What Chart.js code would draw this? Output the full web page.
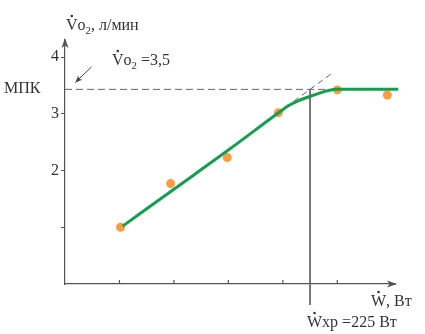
<!DOCTYPE html>
<html>
<head>
<meta charset="utf-8">
<script src="https://cdn.jsdelivr.net/npm/chart.js@4.4.0/dist/chart.umd.min.js"></script>
<style>
  html, body { margin: 0; padding: 0; background: #fff; }
  #wrap { width: 425px; height: 334px; }
</style>
</head>
<body>
<div id="wrap"><canvas id="vo2Chart"></canvas></div>
<script>
// measured points (W, Vo2)
const measuredW = [51, 97, 149, 196, 250, 296];
const measuredVo2 = [1.0, 1.77, 2.23, 3.02, 3.42, 3.33];
// fitted curve
const fitW = [53, 100, 150, 197, 205, 213, 224, 233, 242, 250, 306];
const fitVo2 = [1.02, 1.67, 2.36, 3.03, 3.14, 3.22, 3.30, 3.36, 3.41, 3.43, 3.43];
// dashed extension of the linear part
const extW = [210, 247];
const extVo2 = [3.22, 3.74];
const vo2MaxLevel = 3.43;
const wCrit = 225;
const yTicks = [1, 2, 3, 4];
const yTickLabels = ['', '2', '3', '4'];
const xTicks = [50, 100, 150, 200, 250];

const FONT = '"Liberation Serif", "Times New Roman", serif';
const INK = '#333';
const AXIS = '#555';

const pts = (xs, ys) => xs.map((x, i) => ({ x, y: ys[i] }));

// text with optional dot above and subscript parts
function drawRich(ctx, x, y, parts, size) {
  ctx.save();
  ctx.fillStyle = INK;
  ctx.textBaseline = 'alphabetic';
  ctx.textAlign = 'left';
  let cx = x;
  parts.forEach((p) => {
    const s = p.sub ? size * 0.68 : size;
    ctx.font = `${s}px ${FONT}`;
    const dy = p.sub ? size * 0.28 : 0;
    ctx.fillText(p.t, cx, y + dy);
    const w = ctx.measureText(p.t).width;
    if (p.dot) {
      ctx.beginPath();
      ctx.arc(cx + w / 2, y - size * 0.66 - 3.5, 1.3, 0, Math.PI * 2);
      ctx.fill();
    }
    cx += w;
  });
  ctx.restore();
}

function arrowHead(ctx, x, y, angle, len, half) {
  ctx.save();
  ctx.translate(x, y);
  ctx.rotate(angle);
  ctx.beginPath();
  ctx.moveTo(0, 0);
  ctx.lineTo(-len, -half);
  ctx.lineTo(-len * 0.75, 0);
  ctx.lineTo(-len, half);
  ctx.closePath();
  ctx.fill();
  ctx.restore();
}

const decorations = {
  id: 'decorations',
  afterDraw(chart) {
    const { ctx, chartArea: a, scales: { x, y } } = chart;
    ctx.save();
    ctx.fillStyle = AXIS;
    ctx.strokeStyle = AXIS;
    ctx.lineWidth = 1.2;
    // axis arrows
    arrowHead(ctx, a.left, a.top - 2, -Math.PI / 2, 10, 3.5);
    arrowHead(ctx, a.right + 2, y.getPixelForValue(0), 0, 10, 3.5);
    // x tick marks pointing up into the plot
    xTicks.forEach((v) => {
      const px = x.getPixelForValue(v);
      ctx.beginPath();
      ctx.moveTo(px, y.getPixelForValue(0));
      ctx.lineTo(px, y.getPixelForValue(0) - 4);
      ctx.stroke();
    });
    // small pointer arrow to МПК level
    ctx.strokeStyle = '#444';
    ctx.fillStyle = '#444';
    ctx.lineWidth = 1;
    const sx = x.getPixelForValue(24.5), sy = y.getPixelForValue(3.83);
    const ex = x.getPixelForValue(9.5), ey = y.getPixelForValue(3.55);
    ctx.beginPath();
    ctx.moveTo(sx, sy);
    ctx.lineTo(ex, ey);
    ctx.stroke();
    arrowHead(ctx, ex, ey, Math.atan2(ey - sy, ex - sx), 7, 3);
    ctx.restore();

    drawRich(ctx, 66, 30, [{ t: 'V', dot: true }, { t: 'o' }, { t: '2', sub: true }, { t: ', л/мин' }], 16);
    drawRich(ctx, 112, 65, [{ t: 'V', dot: true }, { t: 'o' }, { t: '2', sub: true }, { t: ' =3,5' }], 16);
    drawRich(ctx, 4, 93, [{ t: 'МПК' }], 16);
    drawRich(ctx, 371, 306, [{ t: 'W', dot: true }, { t: ', Вт' }], 16);
    drawRich(ctx, 307, 327, [{ t: 'W', dot: true }, { t: 'хр =225 Вт' }], 16);
  },
};

new Chart(document.getElementById('vo2Chart'), {
  type: 'scatter',
  data: {
    datasets: [
      {
        label: 'МПК',
        data: pts([0, 242], [vo2MaxLevel, vo2MaxLevel]),
        showLine: true,
        borderColor: '#666',
        borderWidth: 1,
        borderDash: [7, 4],
        pointRadius: 0,
      },
      {
        label: 'extension',
        data: pts(extW, extVo2),
        showLine: true,
        borderColor: '#666',
        borderWidth: 1,
        borderDash: [6, 4],
        pointRadius: 0,
      },
      {
        label: 'Wxp',
        data: pts([wCrit, wCrit], [vo2MaxLevel, -0.37]),
        showLine: true,
        borderColor: '#666',
        borderWidth: 1,
        pointRadius: 0,
        clip: false,
      },
      {
        label: 'fit',
        data: pts(fitW, fitVo2),
        showLine: true,
        borderColor: '#10a04e',
        borderWidth: 3,
        cubicInterpolationMode: 'monotone',
        pointRadius: 0,
        clip: false,
      },
      {
        label: 'measured',
        data: pts(measuredW, measuredVo2),
        backgroundColor: '#fd9a42',
        borderWidth: 0,
        pointRadius: 4.5,
      },
    ],
  },
  options: {
    responsive: true,
    maintainAspectRatio: false,
    animation: false,
    layout: { padding: { top: 40, right: 30, left: 0, bottom: 0 } },
    plugins: { legend: { display: false }, tooltip: { enabled: false } },
    scales: {
      x: {
        type: 'linear',
        min: 0,
        max: 303,
        afterBuildTicks: (s) => { s.ticks = xTicks.map((v) => ({ value: v })); },
        afterFit: (s) => { s.height = 50; },
        ticks: { display: false },
        grid: { display: false },
        border: { color: AXIS, width: 1.2 },
      },
      y: {
        type: 'linear',
        min: 0,
        max: 4.3,
        afterBuildTicks: (s) => { s.ticks = yTicks.map((v) => ({ value: v })); },
        afterFit: (s) => { s.width = 65; },
        ticks: {
          padding: 2,
          color: INK,
          font: { family: FONT, size: 16 },
          callback: (v) => yTickLabels[yTicks.indexOf(v)],
        },
        grid: { drawOnChartArea: false, drawTicks: true, tickLength: 4, color: AXIS },
        border: { color: AXIS, width: 1.2 },
      },
    },
  },
  plugins: [decorations],
});
</script>
</body>
</html>
